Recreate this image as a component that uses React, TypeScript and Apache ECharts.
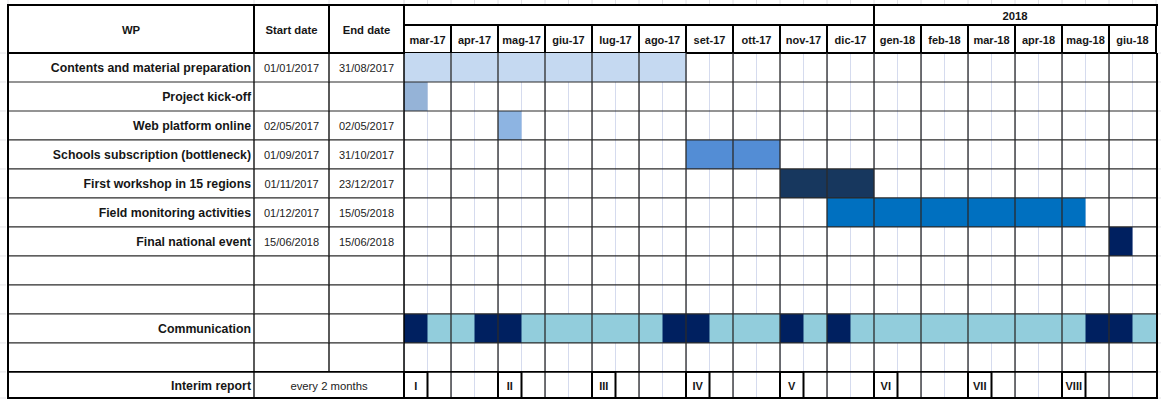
import React, { useEffect, useRef } from "react";
import * as echarts from "echarts";

// ---------- data ----------
const months = ["mar-17", "apr-17", "mag-17", "giu-17", "lug-17", "ago-17", "set-17", "ott-17", "nov-17", "dic-17", "gen-18", "feb-18", "mar-18", "apr-18", "mag-18", "giu-18"];
const yearLabels: Record<string, string> = { "17": "", "18": "2018" };
const headerCols = ["WP", "Start date", "End date"];
const rowLabels = [
  "Contents and material preparation",
  "Project kick-off",
  "Web platform online",
  "Schools subscription (bottleneck)",
  "First workshop in 15 regions",
  "Field monitoring activities",
  "Final national event",
  "",
  "",
  "Communication",
  "",
  "Interim report",
];
const startDates = ["01/01/2017", "", "02/05/2017", "01/09/2017", "01/11/2017", "01/12/2017", "15/06/2018", "", "", "", "", ""];
const endDates = ["31/08/2017", "", "02/05/2017", "31/10/2017", "23/12/2017", "15/05/2018", "15/06/2018", "", "", "", "", ""];
const mergedRow = 11;
const mergedText = "every 2 months";

// tasks, in half-month units (0 = first half of mar-17)
const taskRows = [0, 1, 2, 3, 4, 5, 6];
const taskStart = [0, 0, 4, 12, 16, 18, 30];
const taskEnd = [12, 1, 5, 16, 20, 29, 31];
const taskColors = ["#c5d9f1", "#95b3d7", "#8db4e2", "#538dd5", "#17375e", "#0070c0", "#002060"];

const commRow = 9;
const commSpan = [0, 32];
const commLight = "#92cddc";
const commDark = "#002060";
const commDarkHalves = [0, 3, 4, 11, 12, 16, 18, 29, 30];

const interimRow = 11;
const interimHalves = [0, 4, 8, 12, 16, 20, 24, 28];
const interimLabels = ["I", "II", "III", "IV", "V", "VI", "VII", "VIII"];

// ---------- layout / style ----------
const FONT = "'Liberation Sans', Arial, sans-serif";
const TXT = "#161616";
const DARK = "#2a2a2a";
const FAINT = "#e2e2e6";
const HALF = months.length * 2;
const NROWS = rowLabels.length;
const YMAX = 11.9; // last row is slightly shorter than the others
const colEdges = [0, 246, 321, 396];

const yearGroups: { key: string; start: number; end: number }[] = [];
months.forEach((m, i) => {
  const k = m.slice(-2);
  const last = yearGroups[yearGroups.length - 1];
  if (last && last.key === k) last.end = (i + 1) * 2;
  else yearGroups.push({ key: k, start: i * 2, end: (i + 1) * 2 });
});

const ln = (x1: number, y1: number, x2: number, y2: number, w: number, c: string) => ({
  type: "line",
  shape: { x1, y1, x2, y2 },
  style: { stroke: c, lineWidth: w },
});

const txt = (x: number, y: number, text: string, opts: any) => ({
  type: "text",
  x,
  y,
  style: { text, fill: TXT, fontFamily: FONT, verticalAlign: "middle", ...opts },
});

const rowTop = (api: any, r: number) => api.coord([0, r])[1];
const rowBot = (api: any, r: number) => api.coord([0, Math.min(r + 1, YMAX)])[1];

function buildOption(): any {
  const barData: any[] = taskRows.map((r, i) => ({
    value: [taskStart[i], taskEnd[i], r],
    itemStyle: { color: taskColors[i] },
  }));
  barData.push({ value: [commSpan[0], commSpan[1], commRow], itemStyle: { color: commLight } });
  commDarkHalves.forEach((h) => barData.push({ value: [h, h + 1, commRow], itemStyle: { color: commDark } }));

  const rowAxis = (gi: number) => ({ gridIndex: gi, type: "value", min: 0, max: YMAX, inverse: true, show: false });

  return {
    animation: false,
    backgroundColor: "#ffffff",
    textStyle: { fontFamily: FONT },
    grid: [
      { left: 8, top: 53, width: 396, height: 345 },
      { left: 404, top: 53, width: 752, height: 345 },
      { left: 8, top: 5, width: 396, height: 48 },
      { left: 404, top: 5, width: 752, height: 20 },
    ],
    xAxis: [
      { gridIndex: 0, type: "value", min: 0, max: colEdges[3], show: false },
      {
        gridIndex: 1,
        type: "value",
        min: 0,
        max: HALF,
        interval: 1,
        axisLine: { show: false },
        axisTick: { show: false },
        axisLabel: { show: false },
        splitLine: { show: true, lineStyle: { color: "#d5dbee", width: 1 } },
      },
      {
        gridIndex: 1,
        type: "category",
        position: "top",
        data: months,
        boundaryGap: true,
        axisLine: { show: true, lineStyle: { color: "#000", width: 2 } },
        axisTick: { show: true, length: 28, interval: 0, lineStyle: { color: "#000", width: 2 } },
        axisLabel: {
          interval: 0,
          margin: 13,
          verticalAlign: "middle",
          fontWeight: "bold",
          fontSize: 11,
          color: TXT,
          fontFamily: FONT,
        },
        splitLine: { show: false },
      },
      { gridIndex: 2, type: "value", min: 0, max: colEdges[3], show: false },
      { gridIndex: 3, type: "value", min: 0, max: HALF, show: false },
    ],
    yAxis: [
      rowAxis(0),
      rowAxis(1),
      { gridIndex: 2, type: "category", data: ["h"], show: false },
      { gridIndex: 3, type: "category", data: ["y"], show: false },
    ],
    series: [
      // bars
      {
        type: "custom",
        xAxisIndex: 1,
        yAxisIndex: 1,
        z: 2,
        encode: { x: [0, 1], y: 2 },
        data: barData,
        renderItem: (params: any, api: any) => {
          const s = api.value(0);
          const e = api.value(1);
          const r = api.value(2);
          const x0 = api.coord([s, r])[0];
          const x1 = api.coord([e, r])[0];
          const y0 = rowTop(api, r);
          const y1 = rowBot(api, r);
          return {
            type: "rect",
            shape: { x: x0, y: y0, width: x1 - x0, height: y1 - y0 },
            style: { fill: api.visual("color") },
          };
        },
      },
      // body grid lines (month boundaries + row boundaries)
      {
        type: "custom",
        xAxisIndex: 1,
        yAxisIndex: 1,
        z: 3,
        data: [[0, 0]],
        renderItem: (params: any, api: any) => {
          const top = rowTop(api, 0);
          const bot = rowBot(api, NROWS - 1);
          const xl = api.coord([0, 0])[0];
          const xr = api.coord([HALF, 0])[0];
          const children: any[] = [];
          // faint sheet gridlines outside the table
          for (let h = 0; h <= HALF; h++) {
            const x = api.coord([h, 0])[0];
            children.push(ln(x, 0, x, 4, 1, FAINT));
          }
          for (let r = 0; r <= NROWS; r++) {
            const y = r === NROWS ? bot : rowTop(api, r);
            children.push(ln(xr + 2, y, xr + 10, y, 1, FAINT));
          }
          for (let m = 1; m < months.length; m++) {
            const x = api.coord([m * 2, 0])[0];
            children.push(ln(x, top, x, bot, 1.3, DARK));
          }
          for (let r = 1; r < NROWS; r++) {
            const y = rowTop(api, r);
            children.push(ln(xl, y, xr, y, r === NROWS - 1 ? 1.8 : 1.2, r === NROWS - 1 ? "#000" : DARK));
          }
          children.push(ln(xl, top, xl, bot, 1.5, "#000"));
          children.push(ln(xr + 1, top, xr + 1, bot + 1, 2, "#000"));
          children.push(ln(xl, bot, xr + 2, bot, 2, "#000"));
          return { type: "group", children };
        },
      },
      // interim report boxes
      {
        type: "custom",
        xAxisIndex: 1,
        yAxisIndex: 1,
        z: 4,
        data: interimHalves.map((h) => [h, h + 1, interimRow]),
        renderItem: (params: any, api: any) => {
          const r = api.value(2);
          const x0 = api.coord([api.value(0), r])[0];
          const x1 = api.coord([api.value(1), r])[0];
          const y0 = rowTop(api, r);
          const y1 = rowBot(api, r);
          return {
            type: "group",
            children: [
              {
                type: "rect",
                shape: { x: x0, y: y0, width: x1 - x0, height: y1 - y0 },
                style: { fill: "none", stroke: "#000", lineWidth: 2 },
              },
              txt((x0 + x1) / 2, (y0 + y1) / 2 + 1, interimLabels[params.dataIndex], {
                fontSize: 11,
                fontWeight: "bold",
                align: "center",
              }),
            ],
          };
        },
      },
      // left table body
      {
        type: "custom",
        xAxisIndex: 0,
        yAxisIndex: 0,
        z: 3,
        data: rowLabels.map((_, i) => [0, i]),
        renderItem: (params: any, api: any) => {
          const r = api.value(1);
          const yTop = rowTop(api, r);
          const yBot = rowBot(api, r);
          const yMid = (yTop + yBot) / 2 + 1;
          const x = (v: number) => api.coord([v, r])[0];
          const children: any[] = [];
          children.push(ln(0, yBot, x(0) - 2, yBot, 1, FAINT));
          if (r === 0) {
            children.push(ln(0, yTop, x(0) - 2, yTop, 1, FAINT));
            for (const e of colEdges) children.push(ln(x(e), 0, x(e), 4, 1, FAINT));
          }
          children.push(ln(x(colEdges[1]), yTop, x(colEdges[1]), yBot, 1.3, "#000"));
          if (r !== mergedRow) children.push(ln(x(colEdges[2]), yTop, x(colEdges[2]), yBot, 1.3, "#000"));
          const lw = r === NROWS - 1 ? 2 : r === NROWS - 2 ? 1.8 : 1.2;
          children.push(ln(x(0) - 1, yBot, x(colEdges[3]), yBot, lw, r >= NROWS - 2 ? "#000" : DARK));
          children.push(ln(x(0), yTop, x(0), yBot + 1, 2, "#000"));
          if (rowLabels[r])
            children.push(
              txt(x(colEdges[1]) - 3, yMid, rowLabels[r], { fontSize: 12.3, fontWeight: "bold", align: "right" })
            );
          if (r === mergedRow) {
            children.push(txt(x(colEdges[2]), yMid, mergedText, { fontSize: 11.3, align: "center", fill: "#222" }));
          } else {
            if (startDates[r])
              children.push(
                txt((x(colEdges[1]) + x(colEdges[2])) / 2, yMid, startDates[r], { fontSize: 11, align: "center", fill: "#222" })
              );
            if (endDates[r])
              children.push(
                txt((x(colEdges[2]) + x(colEdges[3])) / 2, yMid, endDates[r], { fontSize: 11, align: "center", fill: "#222" })
              );
          }
          return { type: "group", children };
        },
      },
      // left header
      {
        type: "custom",
        xAxisIndex: 3,
        yAxisIndex: 2,
        z: 4,
        data: headerCols.map((_, i) => [colEdges[i], colEdges[i + 1], 0]),
        renderItem: (params: any, api: any) => {
          const p0 = api.coord([api.value(0), 0]);
          const p1 = api.coord([api.value(1), 0]);
          const h = api.size([0, 1])[1];
          return {
            type: "group",
            children: [
              {
                type: "rect",
                shape: { x: p0[0], y: p0[1] - h / 2, width: p1[0] - p0[0], height: h },
                style: { fill: "none", stroke: "#000", lineWidth: 2 },
              },
              txt((p0[0] + p1[0]) / 2, p0[1] + 1, headerCols[params.dataIndex], {
                fontSize: 11.3,
                fontWeight: "bold",
                align: "center",
              }),
            ],
          };
        },
      },
      // year header
      {
        type: "custom",
        xAxisIndex: 4,
        yAxisIndex: 3,
        z: 4,
        data: yearGroups.map((g) => [g.start, g.end, 0]),
        renderItem: (params: any, api: any) => {
          const p0 = api.coord([api.value(0), 0]);
          const p1 = api.coord([api.value(1), 0]);
          const h = api.size([0, 1])[1];
          const g = yearGroups[params.dataIndex];
          const isLast = params.dataIndex === yearGroups.length - 1;
          return {
            type: "group",
            children: [
              {
                type: "rect",
                shape: { x: p0[0], y: p0[1] - h / 2, width: p1[0] - p0[0] + (isLast ? 1 : 0), height: h },
                style: { fill: "none", stroke: "#000", lineWidth: 2 },
              },
              txt((p0[0] + p1[0]) / 2, p0[1] + 1, yearLabels[g.key], {
                fontSize: 11.3,
                fontWeight: "bold",
                align: "center",
              }),
            ],
          };
        },
      },
    ],
  };
}

export default function App() {
  const ref = useRef<HTMLDivElement>(null);
  useEffect(() => {
    if (!ref.current) return;
    const chart = echarts.init(ref.current, null, { renderer: "svg" });
    chart.setOption(buildOption());
    return () => chart.dispose();
  }, []);
  return (
    <div
      ref={ref}
      style={{ position: "absolute", left: 0, top: 0, width: 1161, height: 402, background: "#fff" }}
    />
  );
}
